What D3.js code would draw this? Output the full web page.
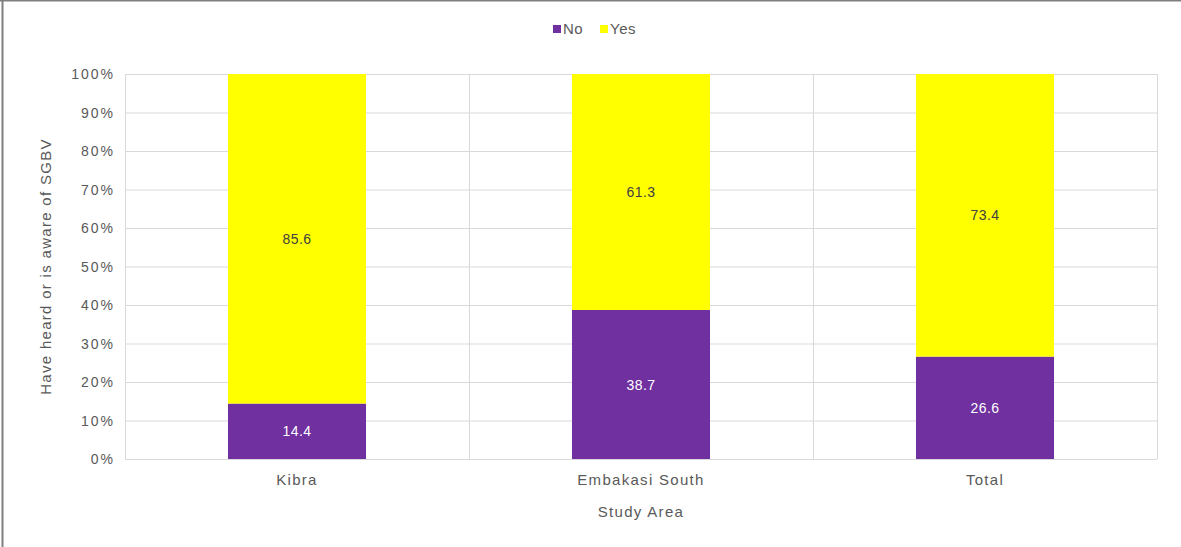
<!DOCTYPE html>
<html>
<head>
<meta charset="utf-8">
<script src="https://cdn.jsdelivr.net/npm/d3@7"></script>
<style>
  body { margin: 0; background: #fff; }
  text { font-family: "Liberation Sans", Arial, sans-serif; fill: #595959; }
</style>
</head>
<body>
<script>
// data
var categories = ["Kibra", "Embakasi South", "Total"];
var noValues = [14.4, 38.7, 26.6];
var yesValues = [85.6, 61.3, 73.4];
var seriesNames = ["No", "Yes"];
var seriesColors = ["#7030A0", "#FFFF00"];
var yTicks = [0, 10, 20, 30, 40, 50, 60, 70, 80, 90, 100];

var W = 1181, H = 547;
var svg = d3.select("body").append("svg").attr("width", W).attr("height", H);

// outer frame (top and left edges visible)
svg.append("line").attr("x1", 0).attr("x2", W).attr("y1", 0.5).attr("y2", 0.5)
   .style("stroke", "#7f7f7f").style("stroke-width", 2);
svg.append("line").attr("x1", 2.5).attr("x2", 2.5).attr("y1", 0).attr("y2", H)
   .style("stroke", "#7f7f7f").style("stroke-width", 2);

var plotL = 125, plotR = 1157, plotT = 74, plotB = 459;

var x = d3.scaleBand().domain(categories).range([plotL, plotR]).paddingInner(0).paddingOuter(0);
var y = d3.scaleLinear().domain([0, 100]).range([plotB, plotT]);

// horizontal gridlines
svg.selectAll(".hgrid").data(yTicks).enter().append("line")
   .attr("x1", plotL).attr("x2", plotR)
   .attr("y1", function (d) { return y(d) + 0.5; }).attr("y2", function (d) { return y(d) + 0.5; })
   .style("stroke", "#d9d9d9").style("stroke-width", 1);

// vertical gridlines at category boundaries
var vx = categories.map(function (c) { return x(c); }).concat([plotR]);
svg.selectAll(".vgrid").data(vx).enter().append("line")
   .attr("x1", function (d) { return d + 0.5; }).attr("x2", function (d) { return d + 0.5; })
   .attr("y1", plotT).attr("y2", plotB)
   .style("stroke", "#d9d9d9").style("stroke-width", 1);

// stacked bars
var rows = categories.map(function (c, i) { return { cat: c, No: noValues[i], Yes: yesValues[i] }; });
var stack = d3.stack().keys(seriesNames)(rows);
var barW = 138;

stack.forEach(function (layer, li) {
  var g = svg.append("g");
  g.selectAll("rect").data(layer).enter().append("rect")
    .attr("x", function (d) { return x(d.data.cat) + x.bandwidth() / 2 - barW / 2; })
    .attr("width", barW)
    .attr("y", function (d) { return y(d[1]); })
    .attr("height", function (d) { return y(d[0]) - y(d[1]); })
    .style("fill", seriesColors[li]);
  g.selectAll("text").data(layer).enter().append("text")
    .attr("x", function (d) { return x(d.data.cat) + x.bandwidth() / 2; })
    .attr("y", function (d) { return (y(d[0]) + y(d[1])) / 2 + 5; })
    .attr("text-anchor", "middle")
    .style("font-size", "14px").style("letter-spacing", "0.5px")
    .style("fill", li === 0 ? "#ffffff" : "#404040")
    .text(function (d) { return d.data[seriesNames[li]].toFixed(1); });
});

// y tick labels
svg.selectAll(".ytick").data(yTicks).enter().append("text")
   .attr("x", plotL - 10).attr("y", function (d) { return y(d) + 5; })
   .attr("text-anchor", "end").style("font-size", "14px").style("letter-spacing", "2px")
   .text(function (d) { return d + "%"; });

// x tick labels
svg.selectAll(".xtick").data(categories).enter().append("text")
   .attr("x", function (d) { return x(d) + x.bandwidth() / 2; })
   .attr("y", 485).attr("text-anchor", "middle")
   .style("font-size", "15px").style("letter-spacing", "1.3px")
   .text(function (d) { return d; });

// axis titles
svg.append("text").attr("x", (plotL + plotR) / 2).attr("y", 517)
   .attr("text-anchor", "middle").style("font-size", "15px").style("letter-spacing", "1.3px")
   .text("Study Area");
svg.append("text").attr("transform", "translate(51," + (plotT + plotB) / 2 + ") rotate(-90)")
   .attr("text-anchor", "middle").style("font-size", "15px").style("letter-spacing", "1.3px")
   .text("Have heard or is aware of SGBV");

// legend
var legendX = [553, 600];
seriesNames.forEach(function (s, i) {
  svg.append("rect").attr("x", legendX[i]).attr("y", 25).attr("width", 8).attr("height", 8)
     .style("fill", seriesColors[i]);
  svg.append("text").attr("x", legendX[i] + 10).attr("y", 34)
     .style("font-size", "15px").style("letter-spacing", "0.5px").text(s);
});
</script>
</body>
</html>
